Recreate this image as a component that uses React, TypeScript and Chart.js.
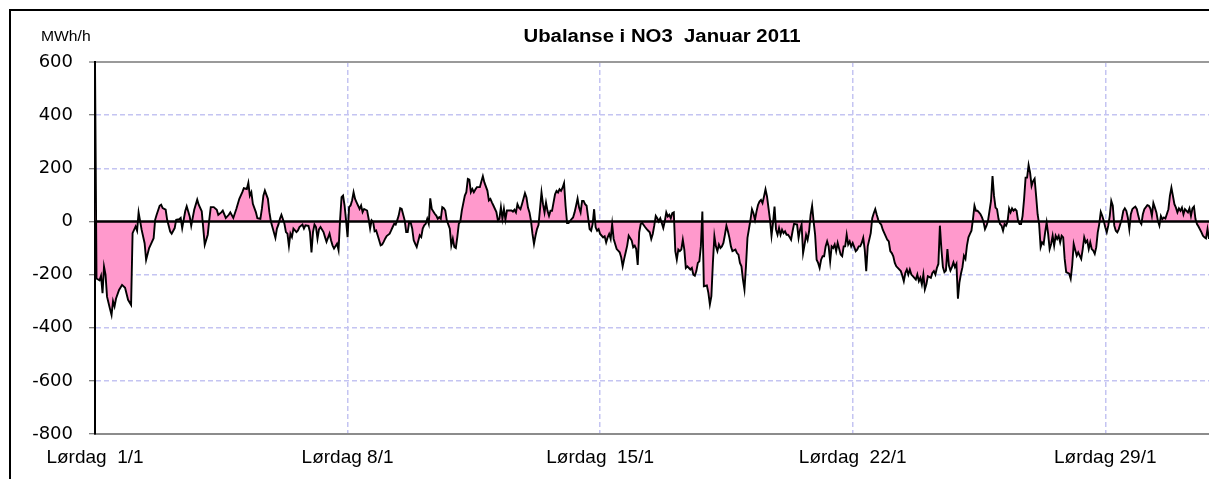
import { useEffect, useRef } from 'react';
import { Chart, registerables } from 'chart.js';

Chart.register(...registerables);

const chartTitle = 'Ubalanse i NO3  Januar 2011';
const unitLabel = 'MWh/h';

// hour of month (0 = 1 Jan 00:00) for each sample
const hours = [
  0, 1, 3, 4, 5, 6, 7, 8, 10, 11, 12, 13, 14, 16, 18, 20, 22, 24, 25, 27, 28, 29, 31, 33, 34, 36, 37, 39, 40, 41, 43, 44, 45, 47, 48, 50, 51, 53, 54, 56, 57, 58, 60, 61, 63, 64, 66, 68, 69, 71, 73, 75, 76, 77, 79, 81, 82, 84, 85, 87, 89, 90, 92,
  94, 96, 98, 99, 101, 102, 103, 104, 105, 107, 108, 110, 111, 112, 113, 115, 116, 117, 118, 120, 121, 122, 123, 124, 126, 127, 128, 129, 130, 131, 132, 134, 135, 136, 138, 139, 140, 142, 143, 144, 145, 146, 147, 148, 149, 150, 152, 153, 154, 156, 157, 158, 159, 161, 162, 163, 164, 165, 166, 167, 168, 169, 170, 171, 172, 173, 174, 176, 177, 178, 179, 181, 182, 183, 184, 185, 186,
  187, 188, 189, 190, 191, 192, 193, 194, 196, 197, 198, 199, 200, 201, 202, 203, 204, 206, 207, 208, 209, 210, 211, 212, 213, 214, 216, 217, 218, 219, 220, 221, 222, 223, 224, 226, 227, 228, 229, 230, 231, 232, 233, 234, 236, 237, 238, 239, 240, 241, 242, 243, 244, 246, 247, 248, 249, 250, 251, 252, 253, 254, 256, 257, 258, 259, 261, 262, 263, 264, 265, 267, 268, 269, 270, 271, 272, 273, 274, 276, 277, 278,
  279, 280, 281, 282, 283, 284, 286, 287, 288, 289, 290, 291, 292, 293, 294, 295, 296, 297, 298, 299, 300, 301, 302, 303, 304, 306, 307, 308, 309, 310, 311, 312, 313, 314, 315, 317, 318, 319, 320, 321, 322, 323, 324, 325, 326, 327, 328, 329, 330, 331, 332, 333, 334, 335, 336, 338, 339, 340, 341, 342, 343, 344, 345, 347, 348, 349, 350, 351, 352, 353, 354, 355, 357, 358, 359, 360, 361, 362, 363, 364, 366, 367, 368, 369, 370, 371, 372, 373,
  374, 375, 376, 377, 378, 379, 380, 381, 382, 383, 384, 385, 386, 387, 388, 389, 390, 391, 392, 393, 394, 396, 397, 398, 399, 400, 401, 402, 403, 404, 405, 407, 408, 409, 410, 411, 412, 413, 414, 415, 416, 417, 418, 419, 420, 421, 422, 423, 424, 426, 427, 428, 429, 430, 431, 432, 433, 434, 436, 437, 438, 439, 440, 441, 442, 443, 444, 445, 446, 447, 448, 449, 450, 451, 452, 453, 454, 455, 456, 457, 458, 459, 460, 461, 462, 463, 464, 465,
  467, 468, 469, 470, 471, 472, 473, 474, 475, 476, 477, 478, 479, 480, 481, 482, 483, 484, 485, 486, 487, 488, 489, 490, 491, 492, 493, 494, 496, 497, 498, 499, 500, 501, 502, 503, 504, 506, 507, 508, 509, 510, 511, 512, 513, 514, 516, 517, 518, 519, 520, 521, 522, 523, 524, 526, 527, 528, 529, 530, 531, 532, 533, 534, 536, 537, 538, 539, 540, 541, 542, 543, 544, 546, 547, 548, 549, 550, 551, 552, 553, 554, 556, 557, 558, 559, 560,
  561, 562, 563, 564, 565, 566, 567, 568, 569, 570, 571, 572, 573, 574, 575, 576, 577, 578, 579, 580, 581, 582, 583, 584, 585, 586, 587, 588, 589, 590, 591, 592, 593, 594, 595, 596, 597, 598, 599, 600, 601, 602, 603, 604, 605, 606, 607, 608, 609, 610, 611, 612, 613, 614, 615, 616, 617, 618, 619, 620, 621, 622, 623, 624, 625, 626, 627, 628, 629, 630, 631, 632, 633, 634, 635, 636, 637, 638, 639, 640, 641, 642, 643, 644, 645, 646, 648, 649, 650, 651,
  653, 654, 656, 657, 658, 659, 660, 661, 662, 663, 664, 665, 666, 667, 668, 669, 670, 671, 672, 673, 674, 675, 676, 677, 678, 679, 680, 681, 682, 683, 684, 685, 686, 687, 688, 689, 690, 691, 692, 693, 694, 695, 696, 697, 698, 700, 701, 702, 703, 704, 705, 706, 707, 708, 709, 710, 711, 712, 714, 715, 716, 717, 718, 719, 720, 721, 722, 723, 724, 725, 727, 728, 729, 730, 731, 732, 733, 734, 736, 737, 738, 739, 740, 741, 742, 743,
];

// imbalance, MWh/h
const imbalance = [
  600, -215, -222, -205, -270, -170, -200, -283, -330, -352, -300, -320, -290, -258, -239, -250, -295, -314, -44, -19, -35, 34, -31, -82, -145, -100, -88, -63, 6, 25, 59, 63, 50, 44, 6, -38, -46, -25, 6, 8, 13, -25, 38, 57, 19, -16, 44, 82, 63, 38, -88, -50, 6, 54, 54, 44, 25, 34, 41, 13, 25, 34, 13,
  47, 85, 110, 125, 122, 145, 97, 110, 66, 35, 12, 10, 47, 97, 116, 85, 35, 0, -21, -62, -27, -12, 10, 25, -9, -40, -46, -92, -46, -59, -27, -40, -34, -21, -12, -27, -15, -17, -40, -117, -40, -12, -21, -65, -30, -21, -40, -59, -77, -46, -71, -90, -102, -84, -108, 4, 91, 97, 60, 4, -59, 54, 60, 79, 110, 85, 72, 47, 60, 35, 47, 41, 10, -27, 4, -2, -37,
  -34, -52, -71, -90, -87, -77, -65, -55, -46, -34, -21, -9, -12, 4, 22, 50, 47, 4, -40, -40, -2, -5, -27, -71, -84, -96, -52, -59, -27, -15, -9, 10, -9, 87, 47, 29, 22, 10, 16, 10, 54, 50, 41, 4, -27, -90, -65, -96, -100, -59, -9, 0, 41, 97, 110, 160, 157, 110, 122, 110, 120, 129, 129, 150, 170, 147, 116, 79, 85, 72, 60, 35, 4, 10, 54, 10, 47, 7, 41, 41, 41, 37,
  44, 34, 65, 52, 46, 65, 106, 90, 52, 34, 2, -47, -85, -54, -29, -14, 46, 109, 65, 34, 71, 40, 21, 40, 40, 102, 115, 109, 121, 115, 127, 144, 59, -6, -6, 9, 15, 34, 59, 86, 52, 34, 77, 77, 65, 59, 15, -29, -35, -10, 46, -22, -35, -29, -47, -60, -56, -79, -60, -47, -66, -10, -66, -104, -110, -116, -135, -169, -141, -116, -91, -54, -72, -97, -91, -104, -164, -41, -10, -6, -22, -29, -35, -41, -66, -47, -16, 21,
  12, 0, 12, -6, -25, 0, 34, 19, 25, 12, 31, 34, -112, -144, -106, -112, -106, -69, -106, -175, -169, -181, -175, -200, -204, -187, -156, -150, -94, 37, -244, -241, -269, -312, -281, -156, -56, -94, -112, -87, -100, -94, -81, -50, -16, -37, -62, -94, -112, -106, -119, -125, -156, -169, -219, -256, -169, -62, 6, 46, 31, 6, 37, 62, 75, 81, 69, 94, 121, 94, 50, 6, -54, -6, 56, -31, -50, -25, -50, -31, -44, -37, -50, -50, -59, -69, -37, -9,
  -12, -62, -31, -12, -119, -87, -50, -69, -37, 25, 59, 0, -50, -144, -156, -175, -144, -131, -131, -94, -75, -94, -150, -94, -100, -87, -112, -81, -125, -131, -94, -94, -50, -87, -75, -94, -81, -112, -106, -94, -94, -81, -62, -106, -187, -94, -44, 12, 31, 46, 25, 6, -6, -12, -31, -56, -69, -75, -112, -119, -131, -156, -169, -175, -187, -204, -225, -194, -181, -200, -181, -200, -206, -219, -200, -225, -212, -237, -200, -256, -237, -206, -212, -194, -187, -200, -175,
  -160, -16, -104, -172, -191, -185, -104, -166, -185, -172, -154, -172, -160, -291, -229, -197, -172, -129, -141, -91, -60, -47, -35, 9, 59, 40, 40, 34, 27, 15, -1, -29, -16, 2, 40, 77, 171, 96, 52, 46, 9, -10, -16, -35, -10, -16, -1, 49, 34, 49, 40, 46, 40, 2, -10, -10, 21, 84, 165, 165, 212, 184, 134, 152, 161, 96, 27, -10, -97, -79, -85, -41, -4, -47, -104, -85, -54, -91, -54, -66, -54, -79, -54, -60, -141, -191, -197, -216, -166, -85,
  -129, -116, -141, -104, -60, -79, -72, -104, -79, -104, -110, -122, -97, -41, -10, 36, 21, 2, -22, -41, -16, 21, 77, 59, -16, -35, -41, -29, -10, 9, 40, 49, 40, 15, -29, 27, 46, 52, 56, 46, 21, -1, -10, 27, 46, 61, 59, 49, 21, 69, 52, 34, 2, -16, 21, 9, 15, 11, 46, 96, 127, 96, 65, 52, 34, 49, 40, 52, 27, 46, 34, 49, 21, 49, 56, 9, -10, -19, -41, -54, -60, -64, -29, -66, -60, -60,
];

const weekTicks = [0, 168, 336, 504, 672];
const weekLabels = ['Lørdag  1/1', 'Lørdag 8/1', 'Lørdag  15/1', 'Lørdag  22/1', 'Lørdag 29/1'];
const yMin = -800;
const yMax = 600;
const yStep = 200;
const xMin = 0;
const xMax = 741;

const GRID = '#c4c4f2';
const FILL = '#ff99cc';

const decorPlugin = {
  id: 'decor',
  beforeDraw(chart: any) {
    const { ctx, width, height } = chart;
    ctx.save();
    ctx.fillStyle = '#ffffff';
    ctx.fillRect(0, 0, width, height);
    ctx.restore();
  },
  afterDatasetsDraw(chart: any) {
    const { ctx, chartArea } = chart;
    const y0 = chart.scales.y.getPixelForValue(0);
    ctx.save();
    ctx.strokeStyle = '#000000';
    ctx.lineWidth = 2.5;
    ctx.beginPath();
    ctx.moveTo(chartArea.left, y0);
    ctx.lineTo(chartArea.right, y0);
    ctx.stroke();
    ctx.restore();
  },
  afterDraw(chart: any) {
    const { ctx, width, height } = chart;
    ctx.save();
    ctx.strokeStyle = '#000000';
    ctx.lineWidth = 2;
    ctx.beginPath();
    ctx.moveTo(10, height + 5);
    ctx.lineTo(10, 10);
    ctx.lineTo(width + 5, 10);
    ctx.stroke();
    ctx.fillStyle = '#000000';
    ctx.textBaseline = 'alphabetic';
    ctx.textAlign = 'center';
    ctx.font = 'bold 18px "Liberation Sans", Arial, sans-serif';
    ctx.translate(662, 42);
    ctx.scale(1.13, 1);
    ctx.fillText(chartTitle, 0, 0);
    ctx.restore();
    ctx.save();
    ctx.fillStyle = '#000000';
    ctx.textAlign = 'left';
    ctx.font = '14px "Liberation Sans", Arial, sans-serif';
    ctx.translate(41, 41);
    ctx.scale(1.12, 1);
    ctx.fillText(unitLabel, 0, 0);
    ctx.restore();
  },
};

export default function App() {
  const canvasRef = useRef<HTMLCanvasElement | null>(null);

  useEffect(() => {
    const canvas = canvasRef.current;
    if (!canvas) return;
    const points = hours.map((h, i) => ({ x: h, y: imbalance[i] }));
    const chart = new Chart(canvas, {
      type: 'line',
      data: {
        datasets: [
          {
            data: points,
            borderColor: '#000000',
            borderWidth: 1.9,
            backgroundColor: FILL,
            fill: { target: 'origin', above: FILL, below: FILL },
            pointRadius: 0,
            tension: 0,
          },
        ],
      },
      options: {
        animation: false,
        responsive: false,
        maintainAspectRatio: false,
        layout: { padding: { top: 62, left: 0, right: 0, bottom: 0 } },
        plugins: {
          legend: { display: false },
          title: { display: false },
          tooltip: { enabled: false },
        },
        scales: {
          x: {
            type: 'linear',
            min: xMin,
            max: xMax,
            afterBuildTicks: (scale: any) => {
              scale.ticks = weekTicks.map((v) => ({ value: v }));
            },
            afterFit: (scale: any) => {
              scale.height = 45;
            },
            ticks: {
              autoSkip: false,
              maxRotation: 0,
              minRotation: 0,
              padding: 12,
              color: '#000000',
              font: { family: '"Liberation Sans", Arial, sans-serif', size: 19 },
              callback: (v: any) => {
                const i = weekTicks.indexOf(Number(v));
                return i >= 0 ? weekLabels[i] : '';
              },
            },
            grid: {
              drawTicks: false,
              lineWidth: 1.5,
              color: (ctx: any) => (ctx.tick && ctx.tick.value === 0 ? 'rgba(0,0,0,0)' : GRID),
            },
            border: {
              display: true,
              color: '#8c8c8c',
              width: 2,
              dash: (ctx: any) => (ctx.tick ? [5, 3] : []),
            },
          },
          y: {
            type: 'linear',
            min: yMin,
            max: yMax,
            afterFit: (scale: any) => {
              scale.width = 95;
            },
            ticks: {
              stepSize: yStep,
              padding: 16,
              color: '#000000',
              font: { family: '"DejaVu Sans", sans-serif', size: 18 },
            },
            grid: {
              drawTicks: true,
              tickLength: 6,
              tickWidth: 1,
              tickColor: '#555555',
              lineWidth: (ctx: any) => {
                const v = ctx.tick ? ctx.tick.value : null;
                return v === yMax ? 2 : 1.5;
              },
              color: (ctx: any) => {
                const v = ctx.tick ? ctx.tick.value : null;
                if (v === 0 || v === yMin) return 'rgba(0,0,0,0)';
                if (v === yMax) return '#9a9a9a';
                return GRID;
              },
            },
            border: {
              display: true,
              color: '#000000',
              width: 2,
              dash: (ctx: any) => {
                const v = ctx.tick ? ctx.tick.value : null;
                if (v === null || v === yMax || v === yMin || v === 0) return [];
                return [5, 3];
              },
            },
          },
        },
      },
      plugins: [decorPlugin],
    });
    return () => chart.destroy();
  }, []);

  return (
    <div style={{ position: 'fixed', left: 0, top: 0, width: 1209, height: 479, overflow: 'hidden' }}>
      <canvas ref={canvasRef} width={1209} height={479} style={{ display: 'block' }} />
    </div>
  );
}
